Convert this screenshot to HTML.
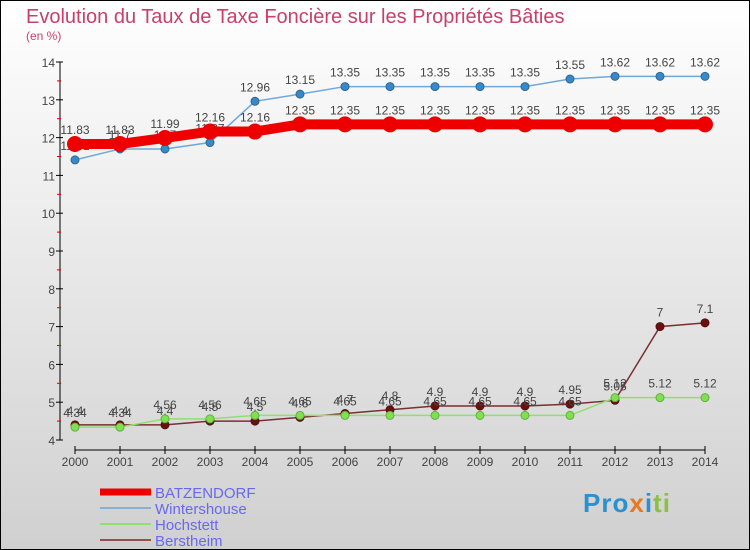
<!DOCTYPE html>
<html><head><meta charset="utf-8"><style>
body{margin:0;width:750px;height:550px;overflow:hidden}
svg{display:block;font-family:"Liberation Sans",sans-serif}
</style></head><body>
<svg width="750" height="550" xmlns="http://www.w3.org/2000/svg">
<defs><linearGradient id="bg" x1="0" y1="0" x2="0" y2="1"><stop offset="0" stop-color="#ffffff"/><stop offset="1" stop-color="#d0d0d0"/></linearGradient></defs>
<rect x="0.5" y="0.5" width="749" height="549" fill="url(#bg)" stroke="#000"/>
<text x="26" y="23" font-size="20" fill="#c8406a">Evolution du Taux de Taxe Foncière sur les Propriétés Bâties</text>
<text x="26" y="40" font-size="12" fill="#c8406a">(en %)</text>
<g id="axes"></g><g id="series"></g><g id="legend"></g>
</svg>
<script>
const years=[2000,2001,2002,2003,2004,2005,2006,2007,2008,2009,2010,2011,2012,2013,2014];
const batz=[11.83,11.83,11.99,12.16,12.16,12.35,12.35,12.35,12.35,12.35,12.35,12.35,12.35,12.35,12.35];
const winters=[11.41,11.7,11.7,11.87,12.96,13.15,13.35,13.35,13.35,13.35,13.35,13.55,13.62,13.62,13.62];
const hoch=[4.34,4.34,4.56,4.56,4.65,4.65,4.65,4.65,4.65,4.65,4.65,4.65,5.12,5.12,5.12];
const bers=[4.4,4.4,4.4,4.5,4.5,4.6,4.7,4.8,4.9,4.9,4.9,4.95,5.05,7,7.1];
const yTicks=[4,5,6,7,8,9,10,11,12,13,14];
const NS="http://www.w3.org/2000/svg";
const X=i=>75+i*45, Y=v=>440-(v-4)*37.8;
function mk(tag,attrs,parent){const e=document.createElementNS(NS,tag);for(const k in attrs)e.setAttribute(k,attrs[k]);parent.appendChild(e);return e;}
const ax=document.getElementById('axes');
let l=mk('line',{x1:60,y1:Y(14),x2:60,y2:Y(4),stroke:'#000'},ax);


l=mk('line',{x1:75,y1:450,x2:705,y2:450,stroke:'#000'},ax);


yTicks.forEach(v=>{
  mk('line',{x1:56,y1:Y(v),x2:63,y2:Y(v),stroke:'#000'},ax);
  if(v<14)mk('line',{x1:57,y1:Y(v+0.5),x2:61,y2:Y(v+0.5),stroke:'#d00'},ax);
  const t=mk('text',{x:55,y:Y(v)+5,'font-size':12,fill:'#444','text-anchor':'end'},ax);t.textContent=v;
  
  
});
years.forEach((yr,i)=>{
  mk('line',{x1:X(i),y1:446,x2:X(i),y2:454,stroke:'#000'},ax);
  const t=mk('text',{x:X(i),y:466,'font-size':12,fill:'#444','text-anchor':'middle'},ax);t.textContent=yr;
  
  
});
const sg=document.getElementById('series');
function series(name,data,color,w,r,dot,dotStroke){
  const g=mk('g',{},sg);
  
  
  mk('polyline',{points:data.map((v,i)=>X(i)+','+Y(v)).join(' '),fill:'none',stroke:color,'stroke-width':w},g);
  data.forEach((v,i)=>{
    const c=mk('circle',{cx:X(i),cy:Y(v),r:r,fill:dot,stroke:dotStroke,'stroke-width':1},g);
    
    
    const t=mk('text',{x:X(i),y:Y(v)-10,'font-size':12,fill:'#444','text-anchor':'middle'},g);t.textContent=v;
    
    
  });
}
series('berstheim',bers,'#7a3030',1.5,4,'#6a1010','#501010');
series('hochstett',hoch,'#90e070',1.5,4,'#80e050','#60b040');
series('wintershouse',winters,'#70a8d8',1.5,4,'#3a88c8','#2a6898');
series('batzendorf',batz,'#ee0000',10,7.5,'#ee0000','#ee0000');
const lg=document.getElementById('legend');
[['BATZENDORF','#ee0000',7],['Wintershouse','#88b0d0',2],['Hochstett','#90e070',2],['Berstheim','#905050',2]].forEach((d,i)=>{
  const y=492+i*16;
  const g=mk('g',{},lg);
  
  
  mk('line',{x1:100,y1:y,x2:151,y2:y,stroke:d[1],'stroke-width':d[2]},g);
  const t=mk('text',{x:155,y:y+6,'font-size':15,fill:'#6868f0'},g);t.textContent=d[0];
});
</script>
<div style="position:absolute;left:583px;top:488px;font:bold 26px 'Liberation Sans',sans-serif;letter-spacing:1px"><span style="color:#2a90d0">Pro</span><span style="color:#e87820">x</span><span style="color:#2a90d0">i</span><span style="color:#8cc040">ti</span></div>
</body></html>
